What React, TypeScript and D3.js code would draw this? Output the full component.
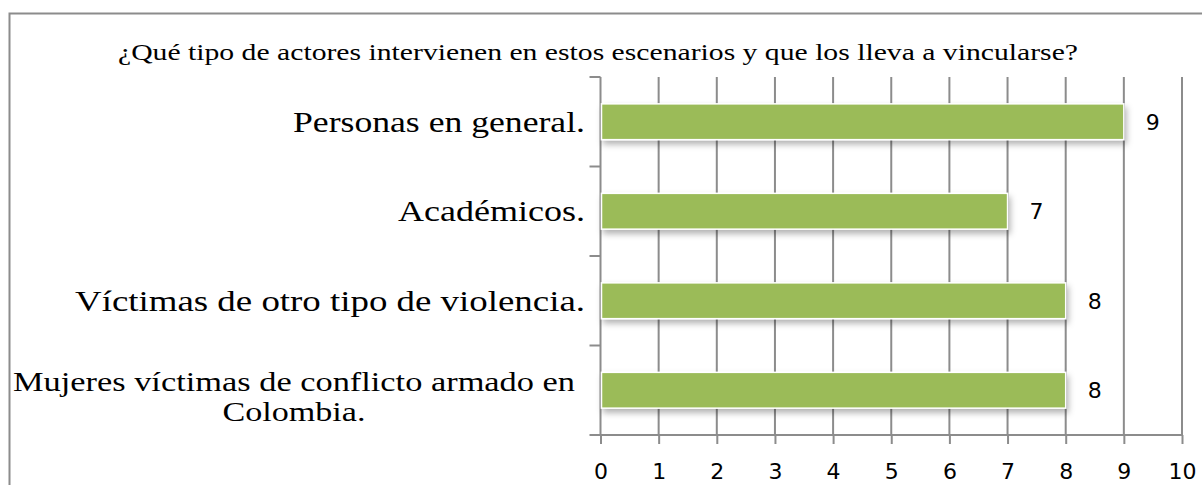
import { useEffect, useRef } from "react";
import * as d3 from "d3";

const title =
  "¿Qué tipo de actores intervienen en estos escenarios y que los lleva a vincularse?";
const categories = [
  "Personas en general.",
  "Académicos.",
  "Víctimas de otro tipo de violencia.",
  "Mujeres víctimas de conflicto armado en Colombia.",
];
const values = [9, 7, 8, 8];
const xTicks = [0, 1, 2, 3, 4, 5, 6, 7, 8, 9, 10];

// long labels are split on two lines like the original
const labelLines: Record<string, string[]> = {
  "Mujeres víctimas de conflicto armado en Colombia.": [
    "Mujeres víctimas de conflicto armado en",
    "Colombia.",
  ],
};

const W = 1202;
const H = 485;
const serif = "'Liberation Serif', 'Times New Roman', serif";
const sans = "'DejaVu Sans', Verdana, sans-serif";

const App = () => {
  const svgRef = useRef<SVGSVGElement | null>(null);

  useEffect(() => {
    const svg = d3.select(svgRef.current);
    svg.selectAll("*").remove();

    const left = 600.5;
    const right = 1182;
    const top = 77;
    const bottom = 435;

    const x = d3.scaleLinear().domain([0, 10]).range([left, right]);
    const y = d3
      .scaleBand()
      .domain(categories)
      .range([top, bottom])
      .paddingInner(0.6)
      .paddingOuter(0.3);

    const defs = svg.append("defs");
    const f = defs
      .append("filter")
      .attr("id", "shadow")
      .attr("x", "-5%")
      .attr("y", "-30%")
      .attr("width", "115%")
      .attr("height", "190%");
    f.append("feDropShadow")
      .attr("dx", 2)
      .attr("dy", 4)
      .attr("stdDeviation", 3)
      .attr("flood-color", "#000")
      .attr("flood-opacity", 0.3);

    // chart frame (cut by the picture on the right and bottom)
    svg
      .append("rect")
      .attr("x", 9.5)
      .attr("y", 13.5)
      .attr("width", W + 20)
      .attr("height", H + 20)
      .attr("fill", "#fff")
      .attr("stroke", "#8c8c8c")
      .attr("stroke-width", 2);

    // title, stretched to the width it has in the original
    svg
      .append("text")
      .attr("x", 118)
      .attr("y", 60)
      .attr("font-family", serif)
      .attr("font-size", 23)
      .attr("fill", "#000")
      .attr("textLength", 960)
      .attr("lengthAdjust", "spacingAndGlyphs")
      .text(title);

    // vertical gridlines
    svg
      .append("g")
      .selectAll("line")
      .data(xTicks.slice(1))
      .join("line")
      .attr("x1", (d) => x(d))
      .attr("x2", (d) => x(d))
      .attr("y1", top)
      .attr("y2", bottom)
      .attr("stroke", "#8c8c8c")
      .attr("stroke-width", 2);

    // x axis
    const xAxis = svg
      .append("g")
      .attr("transform", `translate(0,${bottom})`)
      .call(d3.axisBottom(x).tickValues(xTicks).tickSize(9).tickPadding(19));
    xAxis.select(".domain").remove();
    xAxis
      .append("line")
      .attr("x1", left - 11)
      .attr("x2", right)
      .attr("stroke", "#8c8c8c")
      .attr("stroke-width", 2);
    xAxis.selectAll(".tick line").attr("stroke", "#8c8c8c").attr("stroke-width", 2);
    xAxis
      .selectAll(".tick text")
      .attr("fill", "#000")
      .attr("font-family", sans)
      .attr("font-size", 22);

    // y axis line and category ticks
    const step = y.step();
    const yAxis = svg.append("g");
    yAxis
      .append("line")
      .attr("x1", left)
      .attr("x2", left)
      .attr("y1", top)
      .attr("y2", bottom)
      .attr("stroke", "#8c8c8c")
      .attr("stroke-width", 2);
    yAxis
      .selectAll("line.t")
      .data(d3.range(categories.length))
      .join("line")
      .attr("class", "t")
      .attr("x1", left - 11)
      .attr("x2", left)
      .attr("y1", (i) => top + i * step)
      .attr("y2", (i) => top + i * step)
      .attr("stroke", "#8c8c8c")
      .attr("stroke-width", 2);

    // category labels (widths from the original, which is stretched)
    const labelWidths: Record<string, number> = {
      "Personas en general.": 292,
      "Académicos.": 187,
      "Víctimas de otro tipo de violencia.": 510,
      "Mujeres víctimas de conflicto armado en": 562,
      "Colombia.": 143,
    };
    const lab = svg.append("g");
    categories.forEach((d) => {
      const lines = labelLines[d] || [d];
      const cy = (y(d) as number) + y.bandwidth() / 2;
      if (lines.length === 1) {
        lab
          .append("text")
          .attr("x", 585 - labelWidths[d])
          .attr("y", cy + 10)
          .attr("font-family", serif)
          .attr("font-size", 29)
          .attr("fill", "#000")
          .attr("textLength", labelWidths[d])
          .attr("lengthAdjust", "spacingAndGlyphs")
          .text(d);
      } else {
        lines.forEach((l, i) => {
          lab
            .append("text")
            .attr("x", 294 - labelWidths[l] / 2)
            .attr("y", cy + 1 + i * 30)
            .attr("font-family", serif)
            .attr("font-size", 27)
            .attr("fill", "#000")
            .attr("textLength", labelWidths[l])
            .attr("lengthAdjust", "spacingAndGlyphs")
            .text(l);
        });
      }
    });

    // bars
    svg
      .append("g")
      .selectAll("rect")
      .data(values)
      .join("rect")
      .attr("x", x(0) + 1)
      .attr("y", (_, i) => y(categories[i]) as number)
      .attr("width", (d) => x(d) - x(0) - 1)
      .attr("height", y.bandwidth())
      .attr("fill", "#9bbb59")
      .attr("stroke", "#fff")
      .attr("stroke-width", 1.5)
      .attr("filter", "url(#shadow)");

    // value labels
    svg
      .append("g")
      .selectAll("text")
      .data(values)
      .join("text")
      .attr("x", (d) => x(d) + 29)
      .attr("y", (_, i) => (y(categories[i]) as number) + y.bandwidth() / 2 + 8)
      .attr("text-anchor", "middle")
      .attr("font-family", sans)
      .attr("font-size", 22)
      .attr("fill", "#000")
      .text((d) => d);
  }, []);

  return (
    <svg
      ref={svgRef}
      width={W}
      height={H}
      style={{ position: "absolute", left: 0, top: 0, display: "block" }}
    />
  );
};

export default App;
